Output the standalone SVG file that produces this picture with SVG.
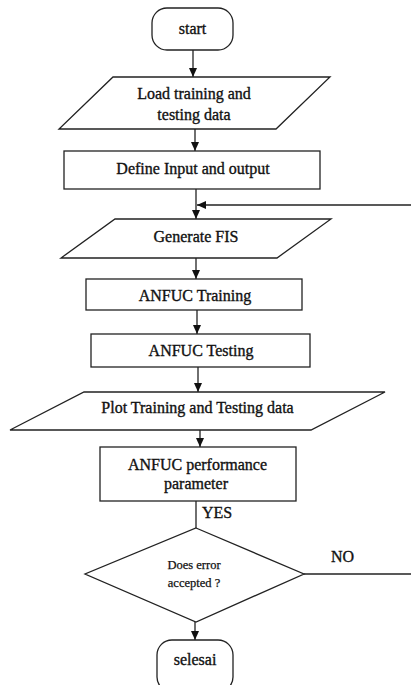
<svg xmlns="http://www.w3.org/2000/svg" width="411" height="685" viewBox="0 0 411 685">
<defs>
<style>
.s{fill:#fff;stroke:#222;stroke-width:1.3}
.t{font-family:"Liberation Serif","Times New Roman",serif;font-size:16px;fill:#111;stroke:#111;stroke-width:0.35;text-anchor:middle}
.l{fill:none;stroke:#222;stroke-width:1.3}
</style>
<marker id="ah" markerUnits="userSpaceOnUse" markerWidth="10" markerHeight="10" viewBox="0 0 10 10" refX="9" refY="5" orient="auto">
<path d="M0,1 L9,5 L0,9 Z" fill="#111"/>
</marker>
</defs>
<rect width="411" height="685" fill="#fff"/>
<g id="connectors">
<line class="l" x1="193" y1="50" x2="193" y2="77" marker-end="url(#ah)"/>
<line class="l" x1="195" y1="129" x2="195" y2="151" marker-end="url(#ah)"/>
<line class="l" x1="196" y1="189" x2="196" y2="219" marker-end="url(#ah)"/>
<line class="l" x1="411" y1="205" x2="197" y2="205" marker-end="url(#ah)"/>
<line class="l" x1="196" y1="258" x2="196" y2="279" marker-end="url(#ah)"/>
<line class="l" x1="197" y1="310" x2="197" y2="334" marker-end="url(#ah)"/>
<line class="l" x1="198" y1="367" x2="198" y2="392" marker-end="url(#ah)"/>
<line class="l" x1="200" y1="430" x2="200" y2="447" marker-end="url(#ah)"/>
<line class="l" x1="196" y1="501" x2="196" y2="528"/>
<line class="l" x1="195" y1="622" x2="195" y2="640" marker-end="url(#ah)"/>
<line class="l" x1="304" y1="574" x2="411" y2="574"/>
<text class="t" x="202" y="518" style="text-anchor:start">YES</text>
<text class="t" x="331" y="562" style="text-anchor:start">NO</text>
</g>
<g id="start">
<rect class="s" x="152" y="8" width="81" height="42" rx="15"/>
<text class="t" x="192.5" y="34">start</text>
</g>
<g id="load">
<polygon class="s" points="113,77 330,77 276,129 59,129"/>
<text class="t" x="194" y="99">Load training and</text>
<text class="t" x="194" y="120">testing data</text>
</g>
<g id="define">
<rect class="s" x="64" y="151" width="256" height="38"/>
<text class="t" x="193" y="174">Define Input and output</text>
</g>
<g id="generate">
<polygon class="s" points="115,219 331,219 277,258 61,258"/>
<text class="t" x="196" y="242">Generate FIS</text>
</g>
<g id="training">
<rect class="s" x="86" y="279" width="216" height="31"/>
<text class="t" x="195" y="301">ANFUC Training</text>
</g>
<g id="testing">
<rect class="s" x="91" y="334" width="219" height="33"/>
<text class="t" x="201" y="356">ANFUC Testing</text>
</g>
<g id="plot">
<polygon class="s" points="84,392 385,392 311,430 10,430"/>
<text class="t" x="197.5" y="413">Plot Training and Testing data</text>
</g>
<g id="performance">
<rect class="s" x="100" y="447" width="196" height="54"/>
<text class="t" x="197.5" y="470">ANFUC performance</text>
<text class="t" x="196" y="489">parameter</text>
</g>
<g id="decision">
<polygon class="s" points="196,528 304,574 196,622 85,574"/>
<text class="t" x="194" y="569" style="font-size:12.5px;stroke-width:0.25">Does error</text>
<text class="t" x="194" y="587" style="font-size:12.5px;stroke-width:0.25">accepted ?</text>
</g>
<g id="selesai">
<rect class="s" x="157" y="640" width="76" height="52" rx="15"/>
<text class="t" x="195" y="665">selesai</text>
</g>
</svg>
